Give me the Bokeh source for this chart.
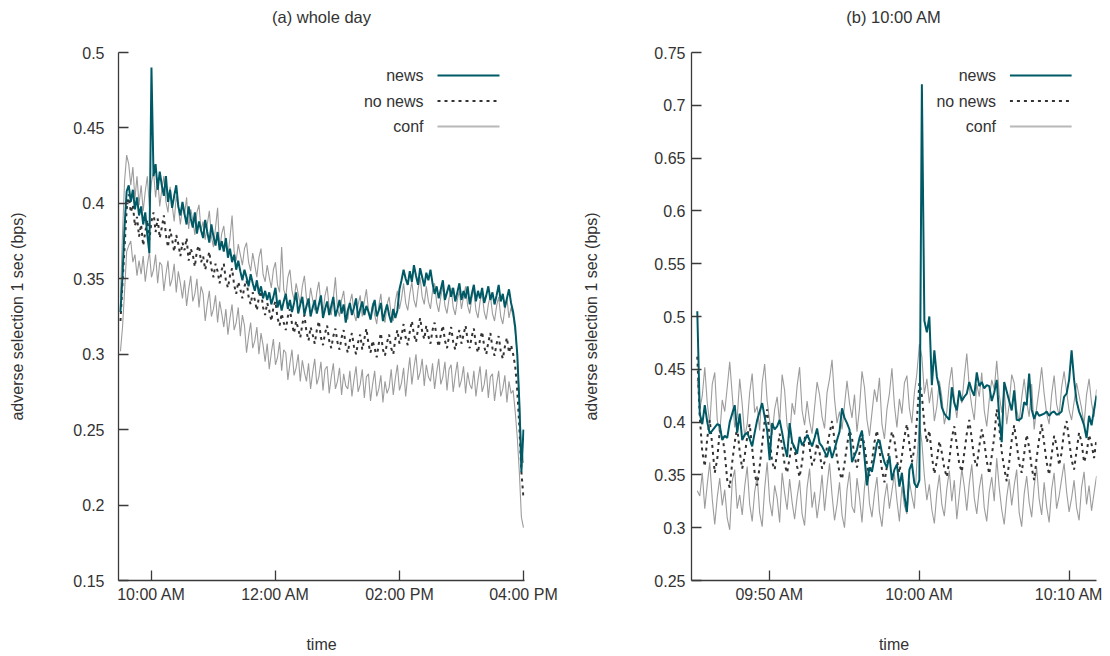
import numpy as np
from bokeh.plotting import figure
from bokeh.models import FixedTicker, Label, Arrow, Range1d, Title
from bokeh.layouts import row
from bokeh.embed import file_html
from bokeh.resources import INLINE

# ---------------- data: panel (a) whole day, 2-minute steps from 09:30 ----------------
start_a = 570.0   # minutes after midnight (09:30)
step_a = 2.0
news_a = [
    0.328, 0.352, 0.385, 0.408, 0.412, 0.401, 0.409, 0.396, 0.404, 0.392,
    0.398, 0.386, 0.394, 0.379, 0.367, 0.490, 0.418, 0.426, 0.409, 0.421,
    0.412, 0.405, 0.418, 0.401, 0.409, 0.397, 0.405, 0.412, 0.398, 0.392,
    0.401, 0.393, 0.386, 0.398, 0.390, 0.384, 0.394, 0.380, 0.388, 0.382,
    0.377, 0.389, 0.381, 0.374, 0.386, 0.378, 0.372, 0.381, 0.369, 0.375,
    0.368, 0.377, 0.364, 0.370, 0.361, 0.366, 0.356, 0.362, 0.355, 0.349,
    0.356, 0.351, 0.345, 0.353, 0.347, 0.342, 0.349, 0.340, 0.345, 0.337,
    0.342, 0.336, 0.341, 0.333, 0.338, 0.344, 0.331, 0.336, 0.329, 0.335,
    0.340, 0.330, 0.336, 0.328, 0.334, 0.341, 0.327, 0.333, 0.338, 0.326,
    0.332, 0.337, 0.325, 0.331, 0.336, 0.327, 0.333, 0.339, 0.324, 0.330,
    0.335, 0.326, 0.332, 0.338, 0.325, 0.330, 0.336, 0.327, 0.333, 0.321,
    0.329, 0.334, 0.326, 0.331, 0.337, 0.324, 0.330, 0.335, 0.326, 0.332,
    0.328, 0.323, 0.331, 0.336, 0.325, 0.329, 0.334, 0.322, 0.328, 0.333,
    0.326, 0.321, 0.330, 0.324, 0.329, 0.343, 0.349, 0.356, 0.350, 0.346,
    0.355, 0.348, 0.359, 0.352, 0.346, 0.357, 0.351, 0.345, 0.354, 0.349,
    0.356, 0.347, 0.340, 0.345, 0.337, 0.343, 0.349, 0.336, 0.341, 0.346,
    0.338, 0.344, 0.335, 0.341, 0.347, 0.336, 0.342, 0.337, 0.345, 0.333,
    0.340, 0.346, 0.335, 0.342, 0.337, 0.344, 0.334, 0.339, 0.345, 0.336,
    0.341, 0.333, 0.339, 0.346, 0.335, 0.340, 0.331, 0.337, 0.343, 0.334,
    0.328, 0.318, 0.300, 0.268, 0.222, 0.250,
]
nonews_a = [
    0.322, 0.347, 0.371, 0.396, 0.406, 0.394, 0.399, 0.385, 0.391, 0.378,
    0.386, 0.372, 0.381, 0.389, 0.376, 0.388, 0.394, 0.381, 0.390, 0.377,
    0.384, 0.392, 0.379, 0.371, 0.383, 0.376, 0.368, 0.379, 0.373, 0.365,
    0.374, 0.369, 0.377, 0.362, 0.370, 0.366, 0.358, 0.369, 0.372, 0.361,
    0.365, 0.356, 0.362, 0.368, 0.357, 0.351, 0.360, 0.355, 0.347, 0.356,
    0.360, 0.349, 0.344, 0.352, 0.357, 0.346, 0.340, 0.348, 0.343, 0.337,
    0.345, 0.349, 0.338, 0.333, 0.341, 0.336, 0.329, 0.338, 0.342, 0.331,
    0.326, 0.334, 0.329, 0.322, 0.331, 0.335, 0.324, 0.319, 0.327, 0.321,
    0.316, 0.325, 0.330, 0.320, 0.314, 0.322, 0.317, 0.311, 0.320, 0.326,
    0.315, 0.309, 0.318, 0.313, 0.307, 0.316, 0.322, 0.311, 0.306, 0.314,
    0.319, 0.309, 0.304, 0.312, 0.317, 0.308, 0.303, 0.311, 0.316, 0.306,
    0.301, 0.309, 0.314, 0.305, 0.300, 0.308, 0.313, 0.303, 0.310, 0.317,
    0.307, 0.301, 0.309, 0.304, 0.298, 0.307, 0.314, 0.303, 0.299, 0.308,
    0.313, 0.304, 0.300, 0.310, 0.316, 0.307, 0.312, 0.320, 0.311, 0.306,
    0.315, 0.322, 0.313, 0.308, 0.317, 0.324, 0.315, 0.310, 0.319, 0.312,
    0.307, 0.316, 0.321, 0.311, 0.305, 0.313, 0.319, 0.309, 0.304, 0.312,
    0.318, 0.308, 0.303, 0.311, 0.316, 0.307, 0.313, 0.319, 0.309, 0.304,
    0.312, 0.317, 0.306, 0.301, 0.310, 0.315, 0.305, 0.300, 0.308, 0.314,
    0.304, 0.299, 0.307, 0.312, 0.302, 0.297, 0.305, 0.311, 0.301, 0.306,
    0.300, 0.292, 0.276, 0.252, 0.222, 0.205,
]
conf_hi_a = [
    0.338, 0.380, 0.415, 0.432, 0.426, 0.412, 0.424, 0.403, 0.418, 0.399,
    0.412, 0.395, 0.408, 0.418, 0.398, 0.414, 0.421, 0.404, 0.417, 0.398,
    0.409, 0.418, 0.401, 0.394, 0.411, 0.399, 0.388, 0.405, 0.397, 0.386,
    0.398, 0.392, 0.404, 0.383, 0.396, 0.389, 0.379, 0.394, 0.399, 0.382,
    0.388, 0.376, 0.386, 0.395, 0.378, 0.371, 0.384, 0.397, 0.369, 0.380,
    0.385, 0.372, 0.366, 0.377, 0.392, 0.368, 0.362, 0.373, 0.366, 0.359,
    0.370, 0.374, 0.361, 0.355, 0.367, 0.359, 0.351, 0.364, 0.370, 0.353,
    0.348, 0.359, 0.351, 0.344, 0.356, 0.361, 0.346, 0.341, 0.371, 0.343,
    0.338, 0.351, 0.356, 0.342, 0.336, 0.347, 0.340, 0.333, 0.345, 0.352,
    0.337, 0.331, 0.344, 0.336, 0.329, 0.341, 0.348, 0.333, 0.328, 0.339,
    0.345, 0.331, 0.326, 0.337, 0.351, 0.330, 0.325, 0.336, 0.342, 0.328,
    0.323, 0.334, 0.340, 0.327, 0.322, 0.333, 0.339, 0.325, 0.335, 0.343,
    0.329, 0.323, 0.334, 0.326, 0.320, 0.332, 0.340, 0.325, 0.321, 0.333,
    0.338, 0.326, 0.322, 0.335, 0.342, 0.330, 0.337, 0.347, 0.334, 0.329,
    0.340, 0.348, 0.336, 0.331, 0.343, 0.351, 0.338, 0.333, 0.345, 0.335,
    0.330, 0.342, 0.347, 0.334, 0.328, 0.338, 0.345, 0.332, 0.327, 0.337,
    0.344, 0.331, 0.326, 0.336, 0.342, 0.330, 0.338, 0.345, 0.332, 0.327,
    0.337, 0.343, 0.329, 0.324, 0.335, 0.341, 0.328, 0.323, 0.333, 0.339,
    0.327, 0.322, 0.332, 0.338, 0.325, 0.320, 0.330, 0.337, 0.324, 0.331,
    0.325, 0.315, 0.300, 0.270, 0.240, 0.228,
]
conf_lo_a = [
    0.302, 0.318, 0.342, 0.368, 0.372, 0.375, 0.361, 0.366, 0.352, 0.362,
    0.353, 0.365, 0.348, 0.359, 0.368, 0.351, 0.356, 0.366, 0.347, 0.361,
    0.359, 0.342, 0.353, 0.362, 0.345, 0.350, 0.360, 0.341, 0.355, 0.347,
    0.337, 0.349, 0.332, 0.343, 0.352, 0.335, 0.340, 0.350, 0.331, 0.345,
    0.340, 0.322, 0.333, 0.342, 0.325, 0.330, 0.339, 0.321, 0.335, 0.327,
    0.318, 0.330, 0.313, 0.324, 0.333, 0.316, 0.321, 0.331, 0.312, 0.326,
    0.319, 0.301, 0.312, 0.321, 0.304, 0.309, 0.318, 0.300, 0.314, 0.306,
    0.295, 0.307, 0.290, 0.301, 0.310, 0.293, 0.298, 0.308, 0.289, 0.303,
    0.301, 0.283, 0.294, 0.303, 0.286, 0.291, 0.300, 0.282, 0.296, 0.288,
    0.282, 0.294, 0.277, 0.288, 0.297, 0.280, 0.285, 0.295, 0.276, 0.290,
    0.292, 0.274, 0.285, 0.294, 0.277, 0.282, 0.291, 0.273, 0.287, 0.279,
    0.277, 0.289, 0.272, 0.283, 0.292, 0.275, 0.280, 0.290, 0.271, 0.285,
    0.287, 0.269, 0.280, 0.289, 0.272, 0.277, 0.286, 0.268, 0.282, 0.274,
    0.278, 0.290, 0.273, 0.284, 0.293, 0.276, 0.281, 0.291, 0.272, 0.286,
    0.298, 0.280, 0.291, 0.300, 0.283, 0.288, 0.297, 0.279, 0.293, 0.285,
    0.282, 0.294, 0.277, 0.288, 0.297, 0.280, 0.285, 0.295, 0.276, 0.290,
    0.293, 0.275, 0.286, 0.295, 0.278, 0.283, 0.292, 0.274, 0.288, 0.280,
    0.277, 0.289, 0.272, 0.283, 0.292, 0.275, 0.280, 0.290, 0.271, 0.285,
    0.287, 0.269, 0.280, 0.289, 0.272, 0.277, 0.286, 0.268, 0.282, 0.274,
    0.276, 0.262, 0.245, 0.222, 0.192, 0.185,
]

# ---------------- data: panel (b) around 10:00 AM, 10-second steps from 09:45:10 ----------------
start_b = 585.0 + 1.0 / 6.0
step_b = 1.0 / 6.0
news_b = [
    0.505, 0.408, 0.398, 0.416, 0.400, 0.389, 0.392, 0.395, 0.398, 0.397,
    0.383, 0.387, 0.385, 0.400, 0.408, 0.416, 0.390, 0.408, 0.383, 0.388,
    0.390, 0.384, 0.377, 0.390, 0.402, 0.410, 0.418, 0.405, 0.392, 0.364,
    0.399, 0.393, 0.396, 0.402, 0.390, 0.377, 0.367, 0.399,
    0.381, 0.376, 0.370, 0.386, 0.378, 0.382, 0.388, 0.383, 0.377, 0.385,
    0.394, 0.380, 0.377, 0.372, 0.367, 0.377, 0.366, 0.374, 0.383, 0.391,
    0.413, 0.404, 0.399, 0.393, 0.362, 0.368, 0.374, 0.385, 0.392, 0.367,
    0.340, 0.357, 0.353, 0.366, 0.380, 0.383, 0.371, 0.362, 0.357, 0.368,
    0.345, 0.355, 0.360,
    0.339, 0.352, 0.330, 0.315, 0.355, 0.361, 0.342, 0.338, 0.345, 0.720,
    0.496, 0.485, 0.500, 0.435, 0.468, 0.443, 0.432, 0.414, 0.408, 0.405,
    0.402, 0.433, 0.418, 0.411, 0.430, 0.420, 0.424, 0.427, 0.438, 0.430,
    0.425, 0.447, 0.434, 0.438, 0.432, 0.435, 0.434, 0.420, 0.428, 0.440,
    0.405,
    0.381, 0.438, 0.429, 0.420, 0.411, 0.430, 0.402, 0.402, 0.404, 0.419,
    0.416, 0.446, 0.412, 0.403, 0.410, 0.406, 0.407, 0.408, 0.410, 0.406,
    0.409, 0.410, 0.407, 0.408, 0.410, 0.424, 0.427, 0.440, 0.468, 0.440,
    0.420, 0.410, 0.404, 0.397, 0.385, 0.406, 0.397, 0.412, 0.425,
]
nonews_b = [
    0.462, 0.405, 0.372, 0.358, 0.385, 0.402, 0.378, 0.352, 0.365, 0.392,
    0.388, 0.371, 0.345, 0.338, 0.362, 0.381, 0.395, 0.372, 0.356, 0.368,
    0.386, 0.398, 0.375, 0.352, 0.340, 0.358, 0.379, 0.401, 0.412, 0.384,
    0.362, 0.355, 0.371, 0.389, 0.378, 0.360, 0.352, 0.366, 0.382, 0.374,
    0.358, 0.348, 0.362, 0.384, 0.392, 0.376, 0.359, 0.365, 0.380, 0.371,
    0.356, 0.362, 0.377, 0.389, 0.401, 0.383, 0.366, 0.352, 0.346, 0.361,
    0.378, 0.392, 0.385, 0.368, 0.357, 0.371, 0.389, 0.378, 0.360, 0.349,
    0.363, 0.381, 0.392, 0.374, 0.355, 0.343, 0.358, 0.377, 0.391, 0.383,
    0.364, 0.352, 0.368, 0.386, 0.398, 0.379, 0.362, 0.375, 0.402, 0.437,
    0.425, 0.398, 0.381, 0.392, 0.368, 0.351, 0.363, 0.382, 0.371, 0.356,
    0.348, 0.364, 0.385, 0.396, 0.378, 0.360, 0.353, 0.371, 0.389, 0.402,
    0.384, 0.365, 0.358, 0.377, 0.393, 0.381, 0.363, 0.351, 0.368, 0.386,
    0.412, 0.395, 0.372, 0.356, 0.344, 0.362, 0.383, 0.397, 0.379, 0.361,
    0.352, 0.370, 0.388, 0.376, 0.357, 0.345, 0.366, 0.384, 0.398, 0.380,
    0.362, 0.350, 0.369, 0.387, 0.378, 0.359, 0.371, 0.392, 0.401, 0.383,
    0.364, 0.355, 0.373, 0.390, 0.381, 0.362, 0.370, 0.388, 0.379, 0.366,
    0.384,
]
conf_hi_b = [
    0.440, 0.412, 0.425, 0.452, 0.418, 0.398, 0.436, 0.447, 0.402, 0.389,
    0.421, 0.410, 0.433, 0.457, 0.426, 0.395, 0.404, 0.441, 0.417, 0.386,
    0.398, 0.428, 0.446, 0.409, 0.415, 0.392, 0.437, 0.455, 0.420, 0.401,
    0.388, 0.412, 0.424, 0.399, 0.445, 0.430, 0.396, 0.385, 0.418, 0.407,
    0.434, 0.452, 0.411, 0.397, 0.420, 0.401, 0.389, 0.414, 0.438, 0.426,
    0.405, 0.394, 0.428, 0.441, 0.459, 0.422, 0.399, 0.410, 0.393, 0.416,
    0.439, 0.418, 0.404, 0.426, 0.391, 0.413, 0.448, 0.433, 0.402, 0.387,
    0.409, 0.431, 0.419, 0.442, 0.398, 0.384, 0.412, 0.427, 0.451, 0.416,
    0.395, 0.422, 0.408, 0.437, 0.444, 0.413, 0.399, 0.428, 0.446, 0.474,
    0.462, 0.427, 0.441, 0.418, 0.433, 0.401, 0.415, 0.439, 0.424, 0.398,
    0.410, 0.437, 0.452, 0.421, 0.404, 0.429, 0.418, 0.443, 0.465, 0.433,
    0.415, 0.402, 0.436, 0.424, 0.447, 0.411, 0.396, 0.421, 0.440, 0.431,
    0.458, 0.426, 0.409, 0.432, 0.398, 0.417, 0.445, 0.437, 0.412, 0.400,
    0.423, 0.441, 0.419, 0.405, 0.436, 0.393, 0.414, 0.431, 0.452, 0.427,
    0.408, 0.398, 0.426, 0.444, 0.417, 0.406, 0.433, 0.448, 0.429, 0.411,
    0.402, 0.419, 0.437, 0.425, 0.413, 0.398, 0.426, 0.441, 0.418, 0.405,
    0.431,
]
conf_lo_b = [
    0.335, 0.330, 0.352, 0.318, 0.341, 0.362, 0.327, 0.303, 0.329, 0.347,
    0.321, 0.336, 0.309, 0.298, 0.344, 0.355, 0.318, 0.331, 0.312, 0.339,
    0.358, 0.322, 0.306, 0.334, 0.349, 0.314, 0.301, 0.337, 0.362, 0.325,
    0.311, 0.340, 0.328, 0.305, 0.352, 0.333, 0.317, 0.346, 0.324, 0.308,
    0.329, 0.345, 0.313, 0.302, 0.338, 0.356, 0.319, 0.334, 0.309, 0.327,
    0.350, 0.316, 0.340, 0.361, 0.331, 0.307, 0.322, 0.343, 0.312, 0.300,
    0.336, 0.353, 0.320, 0.314, 0.347, 0.329, 0.305, 0.338, 0.357, 0.323,
    0.310, 0.332, 0.348, 0.315, 0.301, 0.327, 0.342, 0.318, 0.335, 0.351,
    0.326, 0.306, 0.339, 0.321, 0.313, 0.344, 0.330, 0.318, 0.362, 0.398,
    0.381, 0.349, 0.326, 0.341, 0.317, 0.304, 0.333, 0.350, 0.322, 0.311,
    0.337, 0.354, 0.325, 0.345, 0.308, 0.331, 0.356, 0.339, 0.316, 0.342,
    0.360, 0.328, 0.313, 0.337, 0.351, 0.319, 0.306, 0.334, 0.348, 0.325,
    0.366, 0.338, 0.317, 0.303, 0.329, 0.346, 0.321, 0.340, 0.355, 0.314,
    0.301, 0.332, 0.349, 0.324, 0.310, 0.339, 0.357, 0.327, 0.312, 0.343,
    0.320, 0.305, 0.336, 0.352, 0.318, 0.330, 0.346, 0.361, 0.334, 0.315,
    0.328, 0.345, 0.319, 0.307, 0.338, 0.353, 0.322, 0.340, 0.316, 0.333,
    0.349,
]

# ---------------- ticks ----------------
xticks_a = [600, 720, 840, 960]
xlabels_a = ["10:00 AM", "12:00 AM", "02:00 PM", "04:00 PM"]
yticks_a = [0.15, 0.2, 0.25, 0.3, 0.35, 0.4, 0.45, 0.5]
ylabels_a = ["0.15", "0.2", "0.25", "0.3", "0.35", "0.4", "0.45", "0.5"]

xticks_b = [590, 600, 610]
xlabels_b = ["09:50 AM", "10:00 AM", "10:10 AM"]
yticks_b = [0.25, 0.3, 0.35, 0.4, 0.45, 0.5, 0.55, 0.6, 0.65, 0.7, 0.75]
ylabels_b = ["0.25", "0.3", "0.35", "0.4", "0.45", "0.5", "0.55", "0.6", "0.65", "0.7", "0.75"]

series_names = ["news", "no news", "conf"]

FONT = "Liberation Sans"
TXT = "#333333"
AX = "#3a3a3a"
TEAL = "#005a66"
NNC = "#333333"
CONF = "#9c9c9c"
H = 656
BT, BB = 52, 76


def panel(title, t, news, nn, hi, lo, xr, yr, xticks, xlabels, yticks, ylabels,
          width, bl, br, ylab_standoff, ytick_standoff):
    p = figure(width=width, height=H, output_backend="svg", toolbar_location=None,
               title=None,
               x_range=Range1d(*xr), y_range=Range1d(*yr),
               min_border_left=bl, min_border_right=br,
               min_border_top=BT, min_border_bottom=BB)
    p.outline_line_color = None
    p.xgrid.grid_line_color = None
    p.ygrid.grid_line_color = None
    p.background_fill_color = "white"
    p.border_fill_color = "white"

    # blank spacer next to the frame, then the panel title above it
    p.add_layout(Title(text=" ", text_font_size="15px", standoff=0), "above")
    p.add_layout(Title(text=title, align="center", vertical_align="top", standoff=11,
                       text_font=FONT, text_font_size="16.5px", text_font_style="normal",
                       text_color=TXT), "above")

    for ax, ticks, labels in ((p.xaxis[0], xticks, xlabels), (p.yaxis[0], yticks, ylabels)):
        ax.ticker = FixedTicker(ticks=ticks)
        ax.major_label_overrides = {tk: lb for tk, lb in zip(ticks, labels)}
        ax.major_tick_in = 10
        ax.major_tick_out = 0
        ax.minor_tick_line_color = None
        ax.axis_line_color = AX
        ax.axis_line_width = 1.3
        ax.major_tick_line_color = AX
        ax.major_tick_line_width = 1.3
        ax.major_label_text_font = FONT
        ax.major_label_text_font_size = "16px"
        ax.major_label_text_color = TXT
        ax.axis_label_text_font = FONT
        ax.axis_label_text_font_size = "16px"
        ax.axis_label_text_font_style = "normal"
        ax.axis_label_text_color = TXT
    p.xaxis.axis_label = "time"
    p.xaxis.major_label_standoff = 5
    p.xaxis.axis_label_standoff = 30
    p.yaxis.axis_label = "adverse selection 1 sec (bps)"
    p.yaxis.major_label_standoff = ytick_standoff
    p.yaxis.axis_label_standoff = ylab_standoff

    p.line(t, hi, line_color=CONF, line_width=1.1)
    p.line(t, lo, line_color=CONF, line_width=1.1)
    p.line(t, nn, line_color=NNC, line_width=2, line_dash="3 4")
    p.line(t, news, line_color=TEAL, line_width=2)

    fw = width - bl - br
    fh = H - BT - BB
    dx = (xr[1] - xr[0]) / fw
    dy = (yr[1] - yr[0]) / fh

    # gnuplot-style key: text on the left, sample on the right
    styles = [
        dict(line_color=TEAL, line_width=2),
        dict(line_color=NNC, line_width=2, line_dash="3 4"),
        dict(line_color="#b8b8b8", line_width=2),
    ]
    for k, (name, st) in enumerate(zip(series_names, styles)):
        yy = yr[1] - (23 + 25.5 * k) * dy
        p.add_layout(Label(x=xr[1] - 101 * dx, y=yy, text=name, text_align="right",
                           text_baseline="middle", text_font=FONT, text_font_size="16px",
                           text_color=TXT))
        p.add_layout(Arrow(start=None, end=None, x_start=xr[1] - 87 * dx, y_start=yy,
                           x_end=xr[1] - 25 * dx, y_end=yy, **st))
    return p


t_a = start_a + step_a * np.arange(len(news_a))
t_b = start_b + step_b * np.arange(len(news_b))

pa = panel("(a) whole day", t_a, news_a, nonews_a, conf_hi_a, conf_lo_a,
           (568.1, 961.0), (0.15 - 1e-9, 0.5 + 1e-9),
           xticks_a, xlabels_a, yticks_a, ylabels_a,
           width=580, bl=118, br=56, ylab_standoff=44, ytick_standoff=14)
pb = panel("(b) 10:00 AM", t_b, news_b, nonews_b, conf_hi_b, conf_lo_b,
           (584.78, 611.83), (0.25 - 1e-9, 0.75 + 1e-9),
           xticks_b, xlabels_b, yticks_b, ylabels_b,
           width=530, bl=109, br=14, ylab_standoff=51, ytick_standoff=6)

layout = row(pa, pb, spacing=0)
open("out.html", "w").write(file_html(layout, INLINE))
